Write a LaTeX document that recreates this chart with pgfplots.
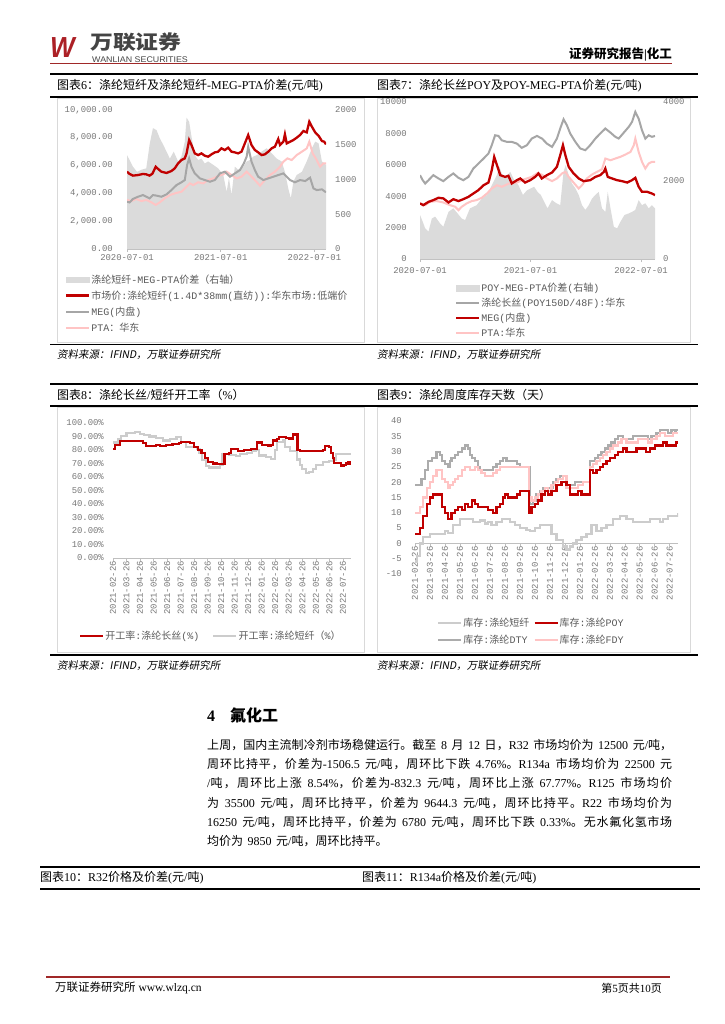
\documentclass[border=0pt]{standalone}
\usepackage{fontspec}
\usepackage{pgfplots}
\pgfplotsset{compat=1.18}
\setmainfont{Liberation Serif}
\setsansfont{Liberation Sans}
\setmonofont{Liberation Mono}
\newfontfamily\cjkfont{Noto Sans CJK SC}
\newfontfamily\cjkslant{Noto Sans CJK SC}[FakeSlant=0.18]
% automatic switching between Latin and CJK fonts
\def\CJKsw{\cjkfont}
\def\LATsw{\rmfamily}
\def\CJKgap{}
\newcount\cjkc
\def\setcjkrange#1#2{\cjkc=#1 \loop\XeTeXcharclass\cjkc=1 \advance\cjkc by 1 \ifnum\cjkc<#2 \repeat}
\setcjkrange{"3000}{"3040}
\setcjkrange{"4E00}{"A000}
\setcjkrange{"FF00}{"FFF0}
\XeTeXinterchartoks 0 1 = {\CJKsw}
\XeTeXinterchartoks 4095 1 = {\CJKsw}
\XeTeXinterchartoks 1 0 = {\LATsw}
\XeTeXinterchartoks 1 4095 = {\LATsw}
\XeTeXinterchartoks 1 1 = {\CJKgap}
\XeTeXinterchartokenstate=1
\newskip\cjkstretch
\cjkstretch=0pt plus 1pt\relax
\newcommand\bodyset{\def\CJKgap{\hskip\cjkstretch}\spaceskip=4.5pt plus 1pt minus 0.5pt\relax}
\newcommand\jline[1]{\makebox[465pt][s]{\bodyset #1}}

\definecolor{myred}{RGB}{192,0,0}
\definecolor{mypink}{RGB}{255,196,196}
\definecolor{mygray}{RGB}{166,166,166}
\definecolor{areagray}{RGB}{219,219,219}
\definecolor{ltgray}{RGB}{204,204,204}
\definecolor{dtygray}{RGB}{172,172,172}
\definecolor{tickgray}{RGB}{120,120,120}
\definecolor{axisgray}{RGB}{191,191,191}
\definecolor{boxgray}{RGB}{217,217,217}
\definecolor{hdrred}{RGB}{160,40,40}
\definecolor{logored}{RGB}{172,32,38}
\definecolor{legtext}{RGB}{90,90,90}
\definecolor{brandgray}{RGB}{68,68,68}

\pgfplotsset{
  base/.style={scale only axis, anchor=south west, tick align=outside, major tick length=3pt,
    scaled ticks=false,
    ticklabel style={font=\fontsize{8.9}{9}\ttfamily, text=tickgray, inner sep=0pt},
    x axis line style={draw=axisgray, line width=0.6pt},
    xtick style={draw=axisgray, line width=0.6pt},
    ytick style={draw=none},
    y axis line style={draw=none}},
  leg/.style={legend cell align=left,
    legend style={draw=none, fill=none, inner sep=0pt, text=legtext,
      font=\fontsize{10}{11}\ttfamily\def\LATsw{\ttfamily},
      nodes={inner sep=1pt}},
    legend image code/.code={\draw[##1] (0pt,0pt) -- (23pt,0pt);}},
}

\begin{document}
\begin{tikzpicture}
\fill[white] (0pt,0pt) rectangle (724pt,-1024pt);

% ---------------- header ----------------
\node[anchor=west, inner sep=0pt, text=logored, font=\fontsize{29}{29}\sffamily\bfseries\itshape, xscale=0.9] at (50pt,-47.5pt) {W};
\node[anchor=west, inner sep=0pt, text=brandgray, font=\fontsize{19.5}{20}\bfseries, xscale=1.17] at (90pt,-42pt) {万联证券};
\node[anchor=west, inner sep=0pt, text=brandgray, font=\fontsize{8.2}{8.5}\sffamily, xscale=1.08] at (92pt,-59.3pt) {WANLIAN SECURITIES};
\node[anchor=east, inner sep=0pt, font=\fontsize{12.5}{13}\bfseries] at (672pt,-54.5pt) {证券研究报告|化工};
\draw[hdrred, line width=0.9pt] (50pt,-63pt) -- (672pt,-63pt);

% ---------------- section frames ----------------
\draw[black, line width=1.8pt] (50pt,-74pt) -- (698pt,-74pt);
\draw[black, line width=1.2pt] (50pt,-97pt) -- (698pt,-97pt);
\node[anchor=west, inner sep=0pt, font=\fontsize{12}{13}\selectfont] at (57pt,-86pt) {图表6：涤纶短纤及涤纶短纤-MEG-PTA价差(元/吨)};
\node[anchor=west, inner sep=0pt, font=\fontsize{12}{13}\selectfont] at (377pt,-86pt) {图表7：涤纶长丝POY及POY-MEG-PTA价差(元/吨)};
\draw[boxgray, line width=0.7pt] (57pt,-98pt) rectangle (364pt,-342pt);
\draw[boxgray, line width=0.7pt] (377pt,-98pt) rectangle (690pt,-342pt);
\draw[black, line width=1.8pt] (50pt,-344.5pt) -- (698pt,-344.5pt);
\node[anchor=west, inner sep=0pt, font=\fontsize{10.5}{11}\cjkslant\def\CJKsw{\cjkslant}\def\LATsw{\cjkslant}] at (57pt,-355pt) {资料来源：IFIND，万联证券研究所};
\node[anchor=west, inner sep=0pt, font=\fontsize{10.5}{11}\cjkslant\def\CJKsw{\cjkslant}\def\LATsw{\cjkslant}] at (377pt,-355pt) {资料来源：IFIND，万联证券研究所};

\draw[black, line width=1.8pt] (50pt,-384pt) -- (698pt,-384pt);
\draw[black, line width=1.2pt] (50pt,-406pt) -- (698pt,-406pt);
\node[anchor=west, inner sep=0pt, font=\fontsize{12}{13}\selectfont] at (57pt,-395pt) {图表8：涤纶长丝/短纤开工率（\%）};
\node[anchor=west, inner sep=0pt, font=\fontsize{12}{13}\selectfont] at (377pt,-395pt) {图表9：涤纶周度库存天数（天）};
\draw[boxgray, line width=0.7pt] (57pt,-407pt) rectangle (364pt,-652pt);
\draw[boxgray, line width=0.7pt] (377pt,-407pt) rectangle (690pt,-652pt);
\draw[black, line width=1.8pt] (50pt,-655pt) -- (698pt,-655pt);
\node[anchor=west, inner sep=0pt, font=\fontsize{10.5}{11}\cjkslant\def\CJKsw{\cjkslant}\def\LATsw{\cjkslant}] at (57pt,-666pt) {资料来源：IFIND，万联证券研究所};
\node[anchor=west, inner sep=0pt, font=\fontsize{10.5}{11}\cjkslant\def\CJKsw{\cjkslant}\def\LATsw{\cjkslant}] at (377pt,-666pt) {资料来源：IFIND，万联证券研究所};

% ---------------- chart 6 ----------------
\begin{axis}[base, at={(127pt,-249pt)}, width=199pt, height=139pt,
  xmin=0, xmax=775, ymin=0, ymax=2000,
  axis x line*=bottom, axis y line*=right,
  xtick={0,365,730}, xticklabels={2020-07-01,2021-07-01,2022-07-01},
  xticklabel style={yshift=-2pt},
  ytick={0,500,1000,1500,2000}, yticklabels={0,500,1000,1500,2000},
  yticklabel style={anchor=west, xshift=6pt}]
\addplot[fill=areagray, draw=none] coordinates {
(0,1350)(10,1280)(23,1185)(39,1110)(56,1140)(75,1160)(88,1500)(101,1740)(115,1710)(128,1590)(141,1500)(154,1400)(167,1300)(182,1400)(199,1260)(212,1330)(225,1540)(232,1890)(242,1830)(251,1620)(264,1350)(277,1280)(290,1300)(303,1230)(316,1260)(336,1210)(355,1160)(375,1065)(388,825)(397,1020)(407,780)(420,1185)(433,1140)(453,1185)(466,1260)(479,1280)(492,1330)(505,1350)(524,1400)(544,1450)(563,1380)(583,1300)(602,1260)(615,1110)(628,870)(638,730)(648,970)(661,1065)(681,1110)(700,1260)(720,1450)(733,1545)(746,1520)(759,1260)(775,1210)} \closedcycle;
\end{axis}
\begin{axis}[base, leg, at={(127pt,-249pt)}, width=199pt, height=139pt,
  xmin=0, xmax=775, ymin=0, ymax=10000,
  axis x line=none, axis y line*=left,
  ytick={0,2000,4000,6000,8000,10000},
  yticklabels={{0.00},{2,000.00},{4,000.00},{6,000.00},{8,000.00},{10,000.00}},
  yticklabel style={anchor=east, xshift=-11pt},
  legend style={at={(-0.3116,-0.175)}, anchor=north west, row sep=4pt}]
\addlegendimage{legend image code/.code={\fill[areagray] (0pt,-2.8pt) rectangle (23pt,2.8pt);}}
\addlegendentry{涤纶短纤-MEG-PTA价差（右轴）}
\addlegendimage{myred, line width=2.2pt}
\addlegendentry{市场价:涤纶短纤(1.4D*38mm(直纺)):华东市场:低端价}
\addlegendimage{mygray, line width=2pt}
\addlegendentry{MEG(内盘)}
\addlegendimage{mypink, line width=2pt}
\addlegendentry{PTA：华东}
\addplot[forget plot, mypink, line width=2pt] coordinates {
(0,3530)(17,3450)(36,3600)(56,3450)(75,3530)(95,3360)(112,3170)(128,3360)(147,3650)(167,3880)(186,4000)(212,4120)(232,4480)(245,4720)(258,4600)(277,4800)(297,4720)(316,4960)(336,5080)(355,5250)(375,5370)(388,5560)(407,5320)(427,5080)(446,5200)(466,5560)(479,5320)(498,4960)(518,4560)(537,4960)(557,5320)(576,5560)(596,5920)(609,6280)(625,6520)(641,6400)(661,6760)(681,7000)(700,7240)(710,7720)(723,6880)(739,6400)(752,5920)(765,6160)(775,6160)};
\addplot[forget plot, mygray, line width=2pt] coordinates {
(0,3400)(10,3350)(23,3600)(43,3760)(62,3880)(75,3760)(88,3640)(101,3880)(115,3840)(134,3760)(154,3930)(173,4240)(193,4600)(212,4800)(225,4960)(234,6040)(242,6520)(251,5920)(264,5440)(284,5080)(303,4960)(323,4840)(342,4960)(362,5440)(381,5560)(401,5200)(420,5440)(440,5680)(455,6160)(466,6640)(472,7360)(485,6280)(498,5680)(511,5200)(531,4960)(550,5080)(570,5200)(589,5320)(609,5440)(622,5200)(635,4960)(654,4800)(674,4960)(694,4890)(713,5130)(726,4360)(739,4240)(759,4290)(775,4080)};
\addplot[forget plot, myred, line width=2.3pt] coordinates {
(0,5560)(10,5400)(23,5280)(43,5320)(62,5400)(75,5370)(88,5280)(99,5420)(112,5920)(121,5760)(134,5560)(154,5470)(173,5610)(186,5800)(199,6160)(212,6400)(225,6520)(232,6880)(242,7840)(251,7480)(264,6880)(277,6760)(290,6880)(303,6710)(316,6640)(329,6810)(342,6950)(355,7000)(368,7240)(381,7120)(394,7290)(407,7000)(420,6950)(433,6880)(446,7000)(459,7600)(472,8200)(485,7480)(498,7120)(511,6950)(524,6760)(537,6810)(550,7000)(563,7240)(576,7360)(589,7910)(596,7480)(609,7720)(615,8250)(622,7600)(635,7720)(648,7840)(661,8010)(674,8200)(687,8490)(700,8390)(710,9160)(720,8800)(733,8390)(746,8150)(759,7770)(768,7720)(775,7530)};
\end{axis}

% ---------------- chart 7 ----------------
\begin{axis}[base, at={(420pt,-259pt)}, width=235pt, height=157pt,
  xmin=0, xmax=776, ymin=0, ymax=4000,
  axis x line*=bottom, axis y line*=right,
  xtick={0,365,730}, xticklabels={2020-07-01,2021-07-01,2022-07-01},
  xticklabel style={yshift=-5pt},
  ytick={0,2000,4000}, yticklabels={0,2000,4000},
  yticklabel style={anchor=west, xshift=5pt}]
\addplot[fill=areagray, draw=none] coordinates {
(0,1120)(9,950)(17,780)(28,695)(39,1030)(50,1080)(66,910)(77,820)(94,1200)(110,1290)(124,1160)(138,1030)(149,990)(165,1290)(187,1370)(204,1540)(221,1630)(237,1880)(254,2140)(262,2350)(276,2050)(289,2140)(298,2220)(311,2010)(325,1880)(340,1630)(353,1750)(366,1800)(377,1840)(388,1710)(399,1630)(410,1460)(421,1290)(436,1500)(450,1420)(463,1370)(474,2220)(481,2390)(491,2140)(502,1920)(513,1800)(524,1630)(535,1370)(546,1250)(557,1370)(568,1540)(579,1630)(590,1710)(601,1290)(612,1200)(620,1710)(629,1290)(640,820)(651,780)(662,950)(675,1120)(689,1160)(700,1200)(711,1250)(722,1500)(733,1370)(744,1420)(755,1290)(766,1370)(776,1290)} \closedcycle;
\end{axis}
\begin{axis}[base, leg, at={(420pt,-259pt)}, width=235pt, height=157pt,
  xmin=0, xmax=776, ymin=0, ymax=10000,
  axis x line=none, axis y line*=left,
  ytick={0,2000,4000,6000,8000,10000},
  yticklabels={0,2000,4000,6000,8000,10000},
  yticklabel style={anchor=east, xshift=-10pt},
  legend style={at={(0.149,-0.148)}, anchor=north west, row sep=3pt}]
\addlegendimage{legend image code/.code={\fill[areagray] (0pt,-2.8pt) rectangle (23pt,2.8pt);}}
\addlegendentry{POY-MEG-PTA价差(右轴)}
\addlegendimage{mygray, line width=2pt}
\addlegendentry{涤纶长丝(POY150D/48F):华东}
\addlegendimage{myred, line width=2.2pt}
\addlegendentry{MEG(内盘)}
\addlegendimage{mypink, line width=2pt}
\addlegendentry{PTA:华东}
\addplot[forget plot, mygray, line width=2pt] coordinates {
(0,5340)(9,5020)(17,4810)(28,5020)(44,5340)(61,5130)(77,4960)(94,5230)(110,5450)(127,5170)(143,5020)(160,5230)(176,5760)(193,6080)(210,6400)(226,6720)(237,7250)(248,7880)(259,7840)(270,7560)(287,7460)(303,7460)(320,7350)(336,7080)(353,7250)(369,7670)(386,7840)(403,7670)(419,7350)(436,7140)(452,7670)(463,8310)(474,8900)(485,8520)(496,7990)(513,7460)(529,7040)(546,6930)(562,7250)(579,7670)(595,7990)(612,8310)(629,8050)(645,7780)(656,7670)(673,8050)(689,8410)(700,8730)(711,9370)(722,8940)(733,8200)(744,7670)(755,7880)(766,7780)(776,7840)};
\addplot[forget plot, mypink, line width=2pt] coordinates {
(0,3540)(17,3430)(33,3640)(55,3690)(77,3600)(99,3430)(116,3330)(127,3110)(138,3330)(154,3540)(171,3690)(187,3750)(204,3900)(221,4170)(237,4490)(254,4700)(270,4600)(287,4750)(303,4870)(320,4870)(336,5020)(353,5130)(369,5230)(386,5450)(402,5380)(419,5130)(436,4960)(452,5130)(469,5450)(480,5550)(491,5230)(507,4870)(524,4490)(535,4700)(551,5130)(568,5380)(584,5550)(601,5720)(612,6400)(629,6290)(645,6400)(662,6510)(678,6650)(695,6820)(706,7250)(711,7670)(722,6820)(733,6190)(744,5760)(755,6080)(766,6190)(776,6190)};
\addplot[forget plot, myred, line width=2.3pt] coordinates {
(0,3540)(11,3430)(28,3640)(44,3750)(61,3900)(77,3860)(94,3600)(110,3810)(127,3690)(143,3810)(160,3960)(176,4170)(193,4390)(210,4700)(226,4870)(237,5660)(245,6500)(254,5980)(265,5340)(281,5230)(292,5300)(303,4810)(320,5020)(331,5130)(347,4870)(364,5020)(380,5230)(391,5450)(402,5130)(419,5340)(436,5510)(452,5870)(463,6610)(472,7250)(480,6610)(491,5870)(507,5450)(524,5130)(540,4960)(562,5020)(579,5230)(595,5340)(607,5550)(612,5760)(620,5230)(634,5130)(651,5020)(667,4960)(684,4870)(700,5020)(711,5170)(722,4600)(733,4280)(750,4280)(766,4170)(776,4070)};
\end{axis}

% ---------------- chart 8 ----------------
\begin{axis}[base, leg, at={(113pt,-558pt)}, width=238pt, height=135pt,
  xmin=0, xmax=17.6, ymin=0, ymax=100,
  axis x line*=bottom, axis y line*=left,
  xtick={0,...,17},
  xticklabels={2021-02-26,2021-03-26,2021-04-26,2021-05-26,2021-06-26,2021-07-26,2021-08-26,2021-09-26,2021-10-26,2021-11-26,2021-12-26,2022-01-26,2022-02-26,2022-03-26,2022-04-26,2022-05-26,2022-06-26,2022-07-26},
  xticklabel style={rotate=90, anchor=east},
  ytick={0,10,...,100},
  yticklabels={0.00\%,10.00\%,20.00\%,30.00\%,40.00\%,50.00\%,60.00\%,70.00\%,80.00\%,90.00\%,100.00\%},
  yticklabel style={anchor=east, xshift=-6pt},
  legend columns=2,
  legend style={at={(-0.143,-0.578)}, anchor=west, /tikz/every even column/.append style={column sep=12pt}}]
\addlegendimage{myred, line width=2.2pt}
\addlegendentry{开工率:涤纶长丝(\%)}
\addlegendimage{ltgray, line width=2.2pt}
\addlegendentry{开工率:涤纶短纤（\%）}
\addplot[forget plot, const plot, ltgray, line width=2.2pt] coordinates {
(0,85.5)(0.35,88)(0.6,90.5)(1.0,92.5)(1.6,93.5)(2.0,92)(2.3,91)(2.7,90)(3.2,89)(3.7,87)(4.2,88)(4.7,89.5)(5.05,86)(5.4,82)(6.2,81)(6.4,78)(6.6,72.5)(6.9,68)(7.1,67)(7.6,67)(7.9,69)(8.1,77)(8.6,76.5)(9.1,75.5)(9.4,77)(9.9,78)(10.3,79)(10.6,80)(10.8,76)(11.3,75)(11.7,73.5)(11.95,80)(12.1,86)(12.6,87)(12.7,82)(13.1,79.5)(13.6,73)(13.8,69)(14.0,66)(14.3,63)(14.5,64)(14.8,66)(15.0,69)(15.5,71)(16.0,72)(16.3,73)(16.5,77)(17.6,77)};
\addplot[forget plot, const plot, myred, line width=2.2pt] coordinates {
(0,81)(0.15,84)(0.5,86.5)(2.2,85)(2.45,83)(3.2,83.5)(3.45,83)(3.9,84)(4.4,84.5)(4.9,85)(5.05,86)(5.7,85)(6.0,82)(6.3,80)(6.55,78)(6.8,74)(7.05,71)(7.4,70)(7.7,69.5)(8.25,77)(8.6,77.5)(8.75,81)(9.1,80.5)(9.25,79)(9.7,80)(10.2,80.5)(10.45,81)(10.65,85.5)(11.0,84)(11.5,83)(11.65,84)(11.85,87)(12.15,88)(12.3,89.5)(12.8,89)(13.05,88.5)(13.3,91.5)(13.65,80)(13.8,79.5)(15.5,80)(15.65,83)(16.0,82)(16.15,78)(16.25,74)(16.35,70.5)(16.7,70.5)(16.85,68.5)(17.05,69)(17.25,70)(17.4,71)(17.55,70)(17.6,70)};
\end{axis}

% ---------------- chart 9 ----------------
\begin{axis}[base, leg, at={(415pt,-574pt)}, width=263pt, height=153pt,
  xmin=0, xmax=17.55, ymin=-10, ymax=40,
  axis x line*=middle, axis y line*=left,
  hide obscured x ticks=false,
  x axis line style={draw=axisgray, line width=0.6pt, -},
  xtick={0,...,17},
  xticklabels={2021-02-26,2021-03-26,2021-04-26,2021-05-26,2021-06-26,2021-07-26,2021-08-26,2021-09-26,2021-10-26,2021-11-26,2021-12-26,2022-01-26,2022-02-26,2022-03-26,2022-04-26,2022-05-26,2022-06-26,2022-07-26},
  xticklabel style={rotate=90, anchor=east},
  ytick={-10,-5,...,40},
  yticklabels={-10,-5,0,5,10,15,20,25,30,35,40},
  yticklabel style={anchor=east, xshift=-10pt},
  legend columns=2,
  legend style={at={(0.084,-0.28)}, anchor=north west, row sep=5pt, /tikz/every even column/.append style={column sep=3pt}}]
\addlegendimage{ltgray, line width=2.2pt}
\addlegendentry{库存:涤纶短纤}
\addlegendimage{myred, line width=2.2pt}
\addlegendentry{库存:涤纶POY}
\addlegendimage{dtygray, line width=2.2pt}
\addlegendentry{库存:涤纶DTY}
\addlegendimage{mypink, line width=2.2pt}
\addlegendentry{库存:涤纶FDY}
\addplot[forget plot, const plot, ltgray, line width=2.2pt] coordinates {
(0,-6)(0.15,-4)(0.33,0)(0.56,2)(1.0,3)(1.67,3)(2.0,4)(2.22,3.5)(2.56,6)(3.0,8)(3.44,8)(3.89,7)(4.33,7.5)(4.67,6.5)(4.89,7)(5.11,6)(5.44,7)(5.78,8)(6.33,7)(6.67,6)(7.0,5)(7.44,4.5)(7.67,4)(8.0,5)(8.33,6)(8.78,6)(9.11,3)(9.44,1)(9.89,-1)(10.11,-2)(10.33,-1)(10.56,0)(10.78,1)(11.11,2)(11.44,3)(11.78,6)(12.11,4)(12.44,5)(12.78,6)(13.22,8)(13.67,9)(14.11,8)(14.56,7)(15.22,7)(15.67,8)(16.11,8)(16.33,7)(16.56,8)(16.89,9)(17.33,9)(17.55,10)};
\addplot[forget plot, const plot, dtygray, line width=2.2pt] coordinates {
(0,19)(0.44,21)(0.67,24)(0.89,27)(1.11,28)(1.44,30)(1.67,29)(1.78,27)(2.0,26)(2.22,25)(2.33,27)(2.44,28)(2.67,29)(2.89,30)(3.11,31)(3.33,32)(3.56,31)(3.67,29)(3.78,28)(4.0,27)(4.22,25)(4.33,24)(5.22,25)(5.44,26)(5.67,27)(5.89,28)(6.11,27)(6.78,26)(7.0,25)(7.67,13)(7.89,14)(8.11,16)(8.33,17)(8.56,18)(9.22,20)(9.44,21)(9.67,22)(10.11,19)(10.67,20)(11.67,27)(12.0,28)(12.22,29)(12.44,30)(12.67,31)(12.89,32)(13.11,33)(13.33,34)(13.56,35)(13.89,34)(14.56,35)(15.56,34)(15.78,35)(16.11,36)(16.33,37)(16.89,36)(17.11,37)(17.33,36)(17.44,37)(17.55,37)};
\addplot[forget plot, const plot, mypink, line width=2.2pt] coordinates {
(0,10)(0.33,12)(0.56,15)(0.78,18)(1.0,20)(1.22,22)(1.44,24)(1.78,21)(2.0,20)(2.22,18)(2.33,19)(2.56,20)(2.67,21)(2.89,22)(3.11,24)(3.33,25)(3.67,24)(4.0,25)(4.22,24)(4.44,23)(4.67,22)(5.22,23)(5.44,24)(5.67,25)(7.62,15)(7.78,14)(8.0,15)(8.22,16)(8.44,17)(8.67,18)(8.89,17)(9.11,19)(9.33,20)(9.56,21)(9.89,22)(10.11,18)(10.89,19)(11.22,20)(11.67,25)(11.89,26)(12.11,27)(12.33,28)(12.56,29)(12.78,30)(13.0,31)(13.22,32)(13.56,33)(13.78,34)(14.11,33)(14.89,34)(15.56,33)(15.78,34)(16.11,35)(16.33,36)(16.67,35)(17.22,36)(17.55,36)};
\addplot[forget plot, const plot, myred, line width=2.2pt] coordinates {
(0,3)(0.33,5)(0.56,9)(0.78,13)(1.0,15)(1.22,16)(1.78,12)(2.0,10)(2.22,8)(2.44,10)(2.67,11)(2.89,12)(3.11,11)(3.33,13)(3.56,12)(3.78,14)(4.0,13)(4.22,12)(4.89,11)(5.22,10)(5.44,12)(5.67,13)(5.89,15)(6.0,16)(6.22,15)(6.78,16)(7.0,17)(7.6,10)(7.78,12)(8.0,13)(8.22,14)(8.44,16)(8.67,17)(8.89,16)(9.11,17)(9.44,19)(9.78,20)(10.11,19)(10.33,16)(10.89,17)(11.11,16)(11.67,24)(11.89,23)(12.11,24)(12.33,25)(12.56,26)(12.78,27)(13.0,28)(13.33,29)(13.56,30)(13.89,31)(14.11,30)(14.78,31)(15.44,30)(15.67,31)(16.0,32)(16.56,33)(16.78,32)(17.44,33)(17.55,33)};
\end{axis}

% ---------------- section 4 text ----------------
\node[anchor=west, inner sep=0pt, font=\fontsize{16}{17}\bfseries] at (207pt,-715pt) {4\hspace{15pt}氟化工};
\begin{scope}[every node/.style={anchor=west, inner sep=0pt, font=\fontsize{12}{13}\selectfont}]
\node at (207pt,-745pt) {\jline{上周，国内主流制冷剂市场稳健运行。截至 8 月 12 日，R32 市场均价为 12500 元/吨，}};
\node at (207pt,-764pt) {\jline{周环比持平，价差为-1506.5 元/吨，周环比下跌 4.76\%。R134a 市场均价为 22500 元}};
\node at (207pt,-783pt) {\jline{/吨，周环比上涨 8.54\%，价差为-832.3 元/吨，周环比上涨 67.77\%。R125 市场均价}};
\node at (207pt,-803pt) {\jline{为 35500 元/吨，周环比持平，价差为 9644.3 元/吨，周环比持平。R22 市场均价为}};
\node at (207pt,-822pt) {\jline{16250 元/吨，周环比持平，价差为 6780 元/吨，周环比下跌 0.33\%。无水氟化氢市场}};
\node at (207pt,-841pt) {\bodyset 均价为 9850 元/吨，周环比持平。};
\end{scope}

% ---------------- figure 10/11 titles ----------------
\draw[black, line width=1.8pt] (40pt,-867pt) -- (700pt,-867pt);
\draw[black, line width=1.2pt] (40pt,-889pt) -- (700pt,-889pt);
\node[anchor=west, inner sep=0pt, font=\fontsize{12}{13}\selectfont] at (40pt,-878pt) {图表10：R32价格及价差(元/吨)};
\node[anchor=west, inner sep=0pt, font=\fontsize{12}{13}\selectfont] at (362pt,-878pt) {图表11：R134a价格及价差(元/吨)};

% ---------------- footer ----------------
\draw[hdrred, line width=1.4pt] (46pt,-977pt) -- (670pt,-977pt);
\node[anchor=west, inner sep=0pt, font=\fontsize{11.5}{12}\selectfont] at (55pt,-988pt) {万联证券研究所 www.wlzq.cn};
\node[anchor=east, inner sep=0pt, font=\fontsize{11}{12}\selectfont] at (662pt,-988pt) {第5页共10页};
\end{tikzpicture}
\end{document}
